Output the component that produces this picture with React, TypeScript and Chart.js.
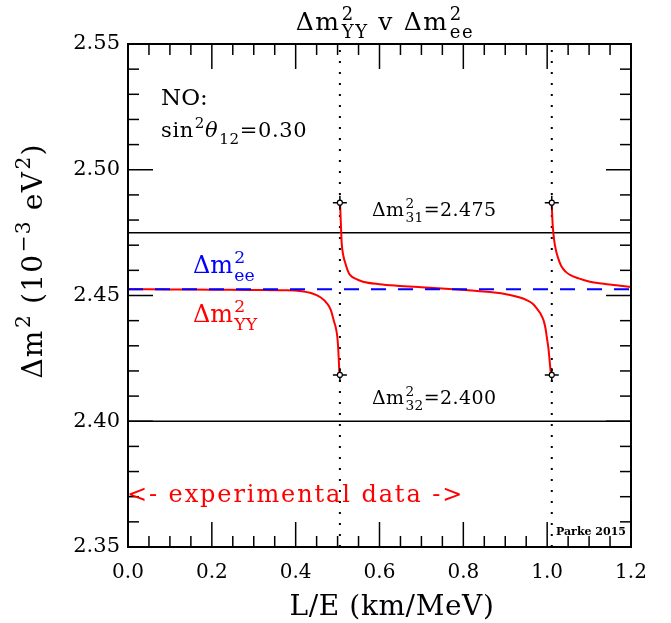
import React, { useEffect, useRef } from "react";
import { Chart, registerables } from "chart.js";

Chart.register(...registerables);

const FONT = "'DejaVu Serif', 'Liberation Serif', serif";

// ---- axis ticks ----
const xTickValues = [0, 0.2, 0.4, 0.6, 0.8, 1.0, 1.2];
const xTickLabels = ["0.0", "0.2", "0.4", "0.6", "0.8", "1.0", "1.2"];
const yTickValues = [2.35, 2.4, 2.45, 2.5, 2.55];
const yTickLabels = ["2.35", "2.40", "2.45", "2.50", "2.55"];
const xMinorStep = 0.05;
const yMinorStep = 0.01;

// ---- physics constants shown ----
const dm2_31 = 2.475;
const dm2_32 = 2.4;
const dm2_ee = 2.4525;
const sin2Theta12 = 0.3;
const singularX = [0.5055, 1.011];

// ---- markers at the ends of the branches ----
const markerX = [0.5055, 0.5055, 1.011, 1.011];
const markerY = [2.4869, 2.4184, 2.4869, 2.4184];

// ---- Δm²_YY curve ----
const branch1X = [0, 0.1, 0.2, 0.3, 0.37, 0.41, 0.44, 0.46, 0.474, 0.484, 0.491, 0.496, 0.4993, 0.5015, 0.503, 0.5045];
const branch1Y = [2.4525, 2.4524, 2.4523, 2.4522, 2.4521, 2.4518, 2.4508, 2.4492, 2.447, 2.4442, 2.44, 2.437, 2.4336, 2.429, 2.424, 2.4184];

const branch2X = [0.5058, 0.5075, 0.5098, 0.5135, 0.5184, 0.524, 0.5296, 0.545, 0.5606, 0.6, 0.641, 0.7, 0.7205, 0.776, 0.82, 0.856, 0.89, 0.911, 0.935, 0.951, 0.965, 0.975, 0.984, 0.991, 0.996, 0.999, 1.003, 1.005, 1.009];
const branch2Y = [2.4869, 2.48, 2.4709, 2.466, 2.4629, 2.46, 2.4582, 2.4565, 2.4555, 2.4545, 2.4539, 2.4533, 2.4531, 2.4525, 2.452, 2.4515, 2.4509, 2.4502, 2.4492, 2.4482, 2.4468, 2.4449, 2.4428, 2.4403, 2.437, 2.4336, 2.429, 2.4257, 2.4184];

const branch3X = [1.0107, 1.0125, 1.0148, 1.0185, 1.0227, 1.028, 1.0346, 1.044, 1.0545, 1.075, 1.102, 1.142, 1.17, 1.2];
const branch3Y = [2.4869, 2.48, 2.4747, 2.47, 2.4668, 2.464, 2.4614, 2.4595, 2.4582, 2.4568, 2.4555, 2.4545, 2.454, 2.4534];

const toPts = (xs: number[], ys: number[]) => xs.map((x, i) => ({ x, y: ys[i] }));

type Seg = { t: string; sup?: string; sub?: string; it?: boolean };

function drawRich(
  ctx: CanvasRenderingContext2D,
  segs: Seg[],
  x: number,
  y: number,
  size: number,
  color: string,
  align: "left" | "center" = "left",
  weight = "normal",
  ls = 0
) {
  const small = size * 0.72;
  (ctx as any).letterSpacing = `${ls}px`;
  const parts = segs.map((s) => {
    ctx.font = `${s.it ? "italic " : ""}${weight} ${size}px ${FONT}`;
    const mw = ctx.measureText(s.t).width;
    ctx.font = `${weight} ${small}px ${FONT}`;
    const sw = Math.max(
      s.sup ? ctx.measureText(s.sup).width : 0,
      s.sub ? ctx.measureText(s.sub).width : 0
    );
    return { mw, sw };
  });
  const gap = size * 0.05;
  const total = parts.reduce((a, p) => a + p.mw + (p.sw ? p.sw + gap : 0), 0);
  let cx = align === "center" ? x - total / 2 : x;
  ctx.fillStyle = color;
  ctx.textAlign = "left";
  ctx.textBaseline = "alphabetic";
  segs.forEach((s, i) => {
    ctx.font = `${s.it ? "italic " : ""}${weight} ${size}px ${FONT}`;
    ctx.fillText(s.t, cx, y);
    cx += parts[i].mw;
    if (parts[i].sw) {
      cx += gap;
      ctx.font = `${weight} ${small}px ${FONT}`;
      if (s.sup) ctx.fillText(s.sup, cx, y - size * 0.42);
      if (s.sub) ctx.fillText(s.sub, cx, y + size * 0.32);
      cx += parts[i].sw;
    }
  });
  (ctx as any).letterSpacing = "0px";
}

const overlayPlugin = {
  id: "overlay",
  afterDatasetsDraw(chart: any) {
    const { ctx, chartArea: a, scales } = chart;
    const xs = scales.x;
    const ys = scales.y;
    ctx.save();
    ctx.strokeStyle = "#000";
    ctx.lineWidth = 1.5;
    const line = (x1: number, y1: number, x2: number, y2: number) => {
      ctx.beginPath();
      ctx.moveTo(x1, y1);
      ctx.lineTo(x2, y2);
      ctx.stroke();
    };
    const xMin = xs.min, xMax = xs.max;
    const nx = Math.round((xMax - xMin) / xMinorStep);
    for (let i = 0; i <= nx; i++) {
      const v = xMin + i * xMinorStep;
      const px = xs.getPixelForValue(v);
      const major = xTickValues.some((t) => Math.abs(t - v) < 1e-6);
      const L = major ? 25 : 11;
      line(px, a.bottom, px, a.bottom - L);
      line(px, a.top, px, a.top + L);
    }
    const yMin = ys.min, yMax = ys.max;
    const ny = Math.round((yMax - yMin) / yMinorStep);
    for (let i = 0; i <= ny; i++) {
      const v = yMin + i * yMinorStep;
      const py = ys.getPixelForValue(v);
      const major = yTickValues.some((t) => Math.abs(t - v) < 1e-6);
      const L = major ? 25 : 11;
      line(a.left, py, a.left + L, py);
      line(a.right, py, a.right - L, py);
    }
    ctx.lineWidth = 2;
    ctx.strokeRect(a.left, a.top, a.right - a.left, a.bottom - a.top);

    // title
    drawRich(ctx, [{ t: "Δm", sup: "2", sub: "YY" }, { t: " v " }, { t: "Δm", sup: "2", sub: "ee" }], 385, 30, 25, "#000", "center", "normal", 1.6);
    // annotations
    drawRich(ctx, [{ t: "NO:" }], 161, 105, 23, "#000");
    drawRich(ctx, [{ t: "sin", sup: "2" }, { t: "θ", it: true, sub: "12" }, { t: "=" + sin2Theta12.toFixed(2) }], 161, 137, 21, "#000", "left", "normal", 0.6);
    drawRich(ctx, [{ t: "Δm", sup: "2", sub: "31" }, { t: "=" + dm2_31.toFixed(3) }], 372, 216, 19, "#000", "left", "normal", 0.4);
    drawRich(ctx, [{ t: "Δm", sup: "2", sub: "32" }, { t: "=" + dm2_32.toFixed(3) }], 372, 404, 19, "#000", "left", "normal", 0.4);
    drawRich(ctx, [{ t: "Δm", sup: "2", sub: "ee" }], 193, 273, 24, "#0000ff");
    drawRich(ctx, [{ t: "Δm", sup: "2", sub: "YY" }], 193, 322, 24, "#ff0000");
    drawRich(ctx, [{ t: "<- experimental data ->" }], 127, 502, 24, "#ff0000", "left", "normal", 1.9);
    drawRich(ctx, [{ t: "Parke 2015" }], 556, 535, 11, "#000", "left", "bold");
    // axis titles
    drawRich(ctx, [{ t: "L/E (km/MeV)" }], 392, 615, 28, "#000", "center", "normal", 0.6);
    ctx.save();
    ctx.translate(42, 261);
    ctx.rotate(-Math.PI / 2);
    drawRich(ctx, [{ t: "Δm", sup: "2" }, { t: " (10", sup: "−3" }, { t: " eV", sup: "2" }, { t: ")" }], 0, 0, 28, "#000", "center", "normal", 1.2);
    ctx.restore();
    ctx.restore();
  },
};

export default function App() {
  const ref = useRef<HTMLCanvasElement | null>(null);
  useEffect(() => {
    if (!ref.current) return;
    const hline = (yv: number) => [{ x: 0, y: yv }, { x: 1.2, y: yv }];
    const vline = (xv: number) => [{ x: xv, y: 2.35 }, { x: xv, y: 2.55 }];
    const red = { borderColor: "#ff0000", borderWidth: 2, pointRadius: 0, fill: false, cubicInterpolationMode: "monotone" as const };
    const chart = new Chart(ref.current, {
      type: "line",
      data: {
        datasets: [
          {
            label: "marker centre",
            data: toPts(markerX, markerY),
            showLine: false,
            pointStyle: "circle",
            pointRadius: 2.5,
            pointBackgroundColor: "#ffffff",
            pointBorderColor: "#000",
            pointBorderWidth: 1.2,
          },
          {
            label: "markers",
            data: toPts(markerX, markerY),
            showLine: false,
            pointStyle: "cross",
            pointRadius: 7,
            pointBorderColor: "#000",
            pointBorderWidth: 1.5,
          },
          {
            label: "Δm²ee",
            data: hline(dm2_ee),
            borderColor: "#0000ff",
            borderWidth: 2,
            borderDash: [15, 12],
            pointRadius: 0,
          },
          { label: "YY1", data: toPts(branch1X, branch1Y), ...red },
          { label: "YY2", data: toPts(branch2X, branch2Y), ...red },
          { label: "YY3", data: toPts(branch3X, branch3Y), ...red },
          { label: "Δm²31", data: hline(dm2_31), borderColor: "#000", borderWidth: 1.5, pointRadius: 0 },
          { label: "Δm²32", data: hline(dm2_32), borderColor: "#000", borderWidth: 1.5, pointRadius: 0 },
          { label: "s1", data: vline(singularX[0]), borderColor: "#000", borderWidth: 2, borderDash: [2, 9], pointRadius: 0 },
          { label: "s2", data: vline(singularX[1]), borderColor: "#000", borderWidth: 2, borderDash: [2, 9], pointRadius: 0 },
        ],
      },
      options: {
        animation: false,
        responsive: false,
        maintainAspectRatio: false,
        devicePixelRatio: 1,
        events: [],
        layout: { padding: { left: 0, right: 40, top: 44, bottom: 0 } },
        plugins: { legend: { display: false }, tooltip: { enabled: false }, title: { display: false } },
        scales: {
          x: {
            type: "linear",
            min: 0,
            max: 1.2,
            grid: { display: false, drawTicks: false },
            border: { display: false },
            afterBuildTicks: (s: any) => {
              s.ticks = xTickValues.map((v) => ({ value: v }));
            },
            afterFit: (s: any) => {
              s.height = 76;
            },
            ticks: {
              autoSkip: false,
              maxRotation: 0,
              padding: 14,
              color: "#000",
              font: { family: FONT, size: 20 },
              callback: (_v: any, i: number) => xTickLabels[i],
            },
          },
          y: {
            type: "linear",
            min: 2.35,
            max: 2.55,
            grid: { display: false, drawTicks: false },
            border: { display: false },
            afterBuildTicks: (s: any) => {
              s.ticks = yTickValues.map((v) => ({ value: v }));
            },
            afterFit: (s: any) => {
              s.width = 128;
            },
            ticks: {
              autoSkip: false,
              padding: 8,
              color: "#000",
              font: { family: FONT, size: 21 },
              callback: (_v: any, i: number) => yTickLabels[i],
            },
          },
        },
      },
      plugins: [overlayPlugin],
    });
    return () => chart.destroy();
  }, []);
  return (
    <div style={{ position: "absolute", left: 0, top: 0, width: 671, height: 623, background: "#fff" }}>
      <canvas ref={ref} width={671} height={623} style={{ width: 671, height: 623 }} />
    </div>
  );
}
